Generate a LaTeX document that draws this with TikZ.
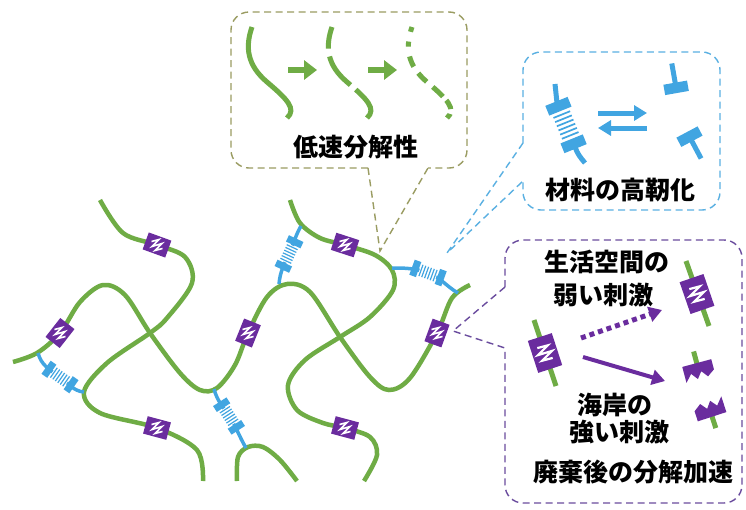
\documentclass[tikz,border=0pt]{standalone}
\usepackage{fontspec}
\newfontfamily\jpfont{Noto Sans CJK JP}
\usetikzlibrary{arrows.meta}
\definecolor{chain}{HTML}{6FAC45}
\definecolor{bond}{HTML}{41A5E1}
\definecolor{cleave}{HTML}{6A2C9E}
\definecolor{olivedash}{HTML}{9A9C62}
\definecolor{bluedash}{HTML}{5AB0E2}
\definecolor{purpledash}{HTML}{6A4C9E}
\tikzset{
  chainline/.style={draw=chain, line width=4.5pt, line cap=butt},
  stemline/.style={draw=bond, line width=3.5pt},
  callout/.style={line width=1.4pt, dash pattern=on 7pt off 4.5pt, rounded corners=18pt},
  tailline/.style={line width=1.4pt, dash pattern=on 7pt off 4.5pt},
  jptext/.style={font=\jpfont\bfseries\fontsize{25}{27}\selectfont, inner sep=0pt, text=black},
  % spring-type bond: two caps with a coil between them
  pics/bondunit/.style={code={
    \fill[white] (-9,-6.5) rectangle (9,6.5);
    \fill[bond] (-17,-8) rectangle (-10,8);
    \fill[bond] (10,-8) rectangle (17,8);
    \foreach \u in {-7.5,-4.5,-1.5,1.5,4.5,7.5}
      \draw[bond, line width=#1] (\u,-6) -- (\u,6);
  }},
  pics/bondunit/.default=1.2pt,
  % one half of an opened bond
  pics/halfbond/.style={code={
    \draw[bond, line width=5pt] (5,0) -- (20,0);
    \fill[bond] (0,-8) rectangle (7,8);
  }},
  % body of a cleavable unit
  pics/cleavebody/.style={code={
    \fill[cleave] (-12,-9) rectangle (12,9);
  }},
  % zigzag mark drawn upright on each unit
  pics/zigmark/.style={code={
    \draw[white, line width=#1, line join=miter, line cap=butt]
      (-5.5,3.5) -- (2,5.5) -- (-5,-1.5) -- (5,1.5) -- (-2,-5.5) -- (5.5,-3.5);
  }},
  pics/zigmark/.default=1.6pt,
  % cleaved unit: jagged edge at the origin, stub of chain behind it
  pics/halfblock/.style={code={
    \draw[chain, line width=5pt] (9,0) -- (19,0);
    \fill[cleave] (0,10) -- (5,5.5) -- (0.5,2) -- (5,-1.5) -- (0.5,-5) -- (4,-10)
      -- (11,-10) -- (11,10) -- cycle;
  }},
  strand/.pic={
    \path[pic actions] (0,0) .. controls (-7,-20) and (-5,-38) .. (15,-55)
      .. controls (35,-72) and (45,-82) .. (35,-91);
  },
}
% cleavable unit: angle, scale, position, mark width
\newcommand{\cleaveunit}[4]{%
  \pic[rotate=#1, scale=#2] at #3 {cleavebody};
  \pic[scale=#2] at #3 {zigmark=#4};}
\begin{document}
\begin{tikzpicture}[x=1pt,y=1pt]
\fill[white] (0,0) rectangle (746,-509);
\useasboundingbox (0,0) rectangle (746,-509);

% ---------- polymer network ----------
\draw[chainline] plot[smooth, tension=0.55] coordinates {(100,-200) (123,-233) (157,-245) (185,-257) (192,-283) (167,-318) (150,-333) (107,-363) (84,-392) (100,-413) (157,-428) (197,-450) (203,-481)};
\draw[chainline] plot[smooth, tension=0.55] coordinates {(13,-362) (37,-353) (60,-333) (80,-302) (103,-285) (125,-295) (150,-333) (180,-373) (200,-390) (217,-388) (235,-365) (248,-333) (267,-297) (287,-284) (310,-292) (340,-337) (370,-377) (389,-390) (410,-378) (437,-333) (452,-298) (470,-285)};
\draw[chainline] plot[smooth, tension=0.55] coordinates {(290,-200) (300,-223) (320,-238) (345,-245) (375,-255) (392,-270) (393,-290) (370,-317) (340,-337) (305,-360) (288,-385) (297,-410) (323,-423) (345,-428) (370,-437) (377,-455) (364,-481)};
\draw[chainline] plot[smooth, tension=0.55] coordinates {(237,-481) (238,-457) (248,-447) (263,-447) (280,-460) (297,-481)};

% bond anchor points on the chains
\coordinate (p1) at (38,-353);  \coordinate (c1) at (60,-377);  \coordinate (q1) at (84,-392);
\coordinate (p2) at (214,-389); \coordinate (c2) at (229,-416); \coordinate (q2) at (246,-448);
\coordinate (p3) at (301,-226); \coordinate (c3) at (289,-254); \coordinate (q3) at (279,-284);
\coordinate (p4) at (392,-268); \coordinate (c4) at (428,-273); \coordinate (q4) at (458,-293);

\draw[stemline] (p1) to[out=-75,in=145] (c1) to[out=-35,in=175] (q1);
\draw[stemline] (p2) to[out=-75,in=123] (c2) to[out=-57,in=120] (q2);
\draw[stemline] (p3) to[out=-120,in=65] (c3) to[out=-115,in=85] (q3);
\draw[stemline] (p4) to[out=0,in=160] (c4) to[out=-20,in=150] (q4);
\pic[rotate=-35] at (c1) {bondunit};
\pic[rotate=-57] at (c2) {bondunit};
\pic[rotate=-115] at (c3) {bondunit};
\pic[rotate=-20] at (c4) {bondunit};

% cleavable units along the chains
\cleaveunit{-20}{1}{(157,-245)}{1.6pt}
\cleaveunit{52}{1}{(60,-333)}{1.6pt}
\cleaveunit{-15}{1}{(157,-428)}{1.6pt}
\cleaveunit{68}{1}{(248,-333)}{1.6pt}
\cleaveunit{-18}{1}{(345,-245)}{1.6pt}
\cleaveunit{70}{1}{(437,-333)}{1.6pt}
\cleaveunit{-15}{1}{(345,-428)}{1.6pt}

% ---------- callout: slow degradation ----------
\coordinate (tip1) at (380,-251);
\draw[callout, draw=olivedash] (368,-168) -- (231,-168) -- (231,-12) -- (467,-12) -- (467,-168) -- (428,-168);
\draw[tailline, draw=olivedash] (368,-168) -- (tip1) -- (428,-168);
\pic[draw=chain, line width=5pt] at (252,-27) {strand};
\pic[draw=chain, line width=5pt, dash pattern=on 22pt off 8pt on 36pt off 7pt on 40pt] at (332,-27) {strand};
\pic[draw=chain, line width=5pt, dash pattern=on 5pt off 10pt on 5pt off 10pt on 11pt off 8pt on 12pt off 8pt on 14pt] at (412,-27) {strand};
\draw[chain, line width=6pt, -{Triangle[length=13pt,width=19pt]}] (288,-70) -- (317,-70);
\draw[chain, line width=6pt, -{Triangle[length=13pt,width=19pt]}] (368,-70) -- (397,-70);
\node[jptext] (t1) at (356,-147) {低速分解性};

% ---------- callout: toughening ----------
\coordinate (tip2) at (447,-253);
\draw[callout, draw=bluedash] (523,-143) -- (523,-52) -- (720,-52) -- (720,-210) -- (523,-210) -- (523,-181);
\draw[tailline, draw=bluedash] (523,-143) -- (tip2) -- (523,-181);
\draw[bond, line width=5pt] (555,-84) -- (557,-103);
\draw[bond, line width=5pt] (575,-147) to[out=-70,in=130] (585,-163);
\pic[rotate=-68, scale=1.5] at (566,-125) {bondunit=1.7pt};
\draw[bond, line width=5pt, -{Triangle[length=13pt,width=15pt]}] (598,-113) -- (647,-113);
\draw[bond, line width=5pt, -{Triangle[length=13pt,width=15pt]}] (647,-128) -- (598,-128);
\pic[rotate=100, scale=1.5] at (677,-93) {halfbond};
\pic[rotate=-62, scale=1.5] at (687,-132) {halfbond};
\node[jptext] (t2) at (620,-190) {材料の高靭化};

% ---------- callout: accelerated degradation ----------
\coordinate (tip3) at (453,-331);
\draw[callout, draw=purpledash] (505,-287) -- (505,-240) -- (742,-240) -- (742,-503) -- (505,-503) -- (505,-348);
\draw[tailline, draw=purpledash] (505,-287) -- (tip3) -- (505,-348);
\node[jptext] (t3) at (607,-262) {生活空間の};
\node[jptext] (t4) at (603,-295) {弱い刺激};
\draw[chain, line width=5pt] (534,-320) -- (556,-386);
\cleaveunit{-72}{1.4}{(545,-353)}{2.2pt}
\draw[cleave, line width=5pt, dash pattern=on 5pt off 4pt, -{Triangle[length=13pt,width=15pt]}] (581,-338) -- (662,-310);
\draw[cleave, line width=4pt, -{Triangle[length=13pt,width=15pt]}] (583,-357) -- (665,-381);
\draw[chain, line width=5pt] (686,-261) -- (709,-326);
\cleaveunit{-71}{1.4}{(697,-294)}{2.2pt}
\pic[rotate=105, scale=1.5] at (701,-379) {halfblock};
\pic[rotate=-72, scale=1.5] at (707,-401) {halfblock};
\node[jptext] (t5) at (615,-405) {海岸の};
\node[jptext] (t6) at (619,-432) {強い刺激};
\node[jptext] (t7) at (633,-472) {廃棄後の分解加速};
\end{tikzpicture}
\end{document}
